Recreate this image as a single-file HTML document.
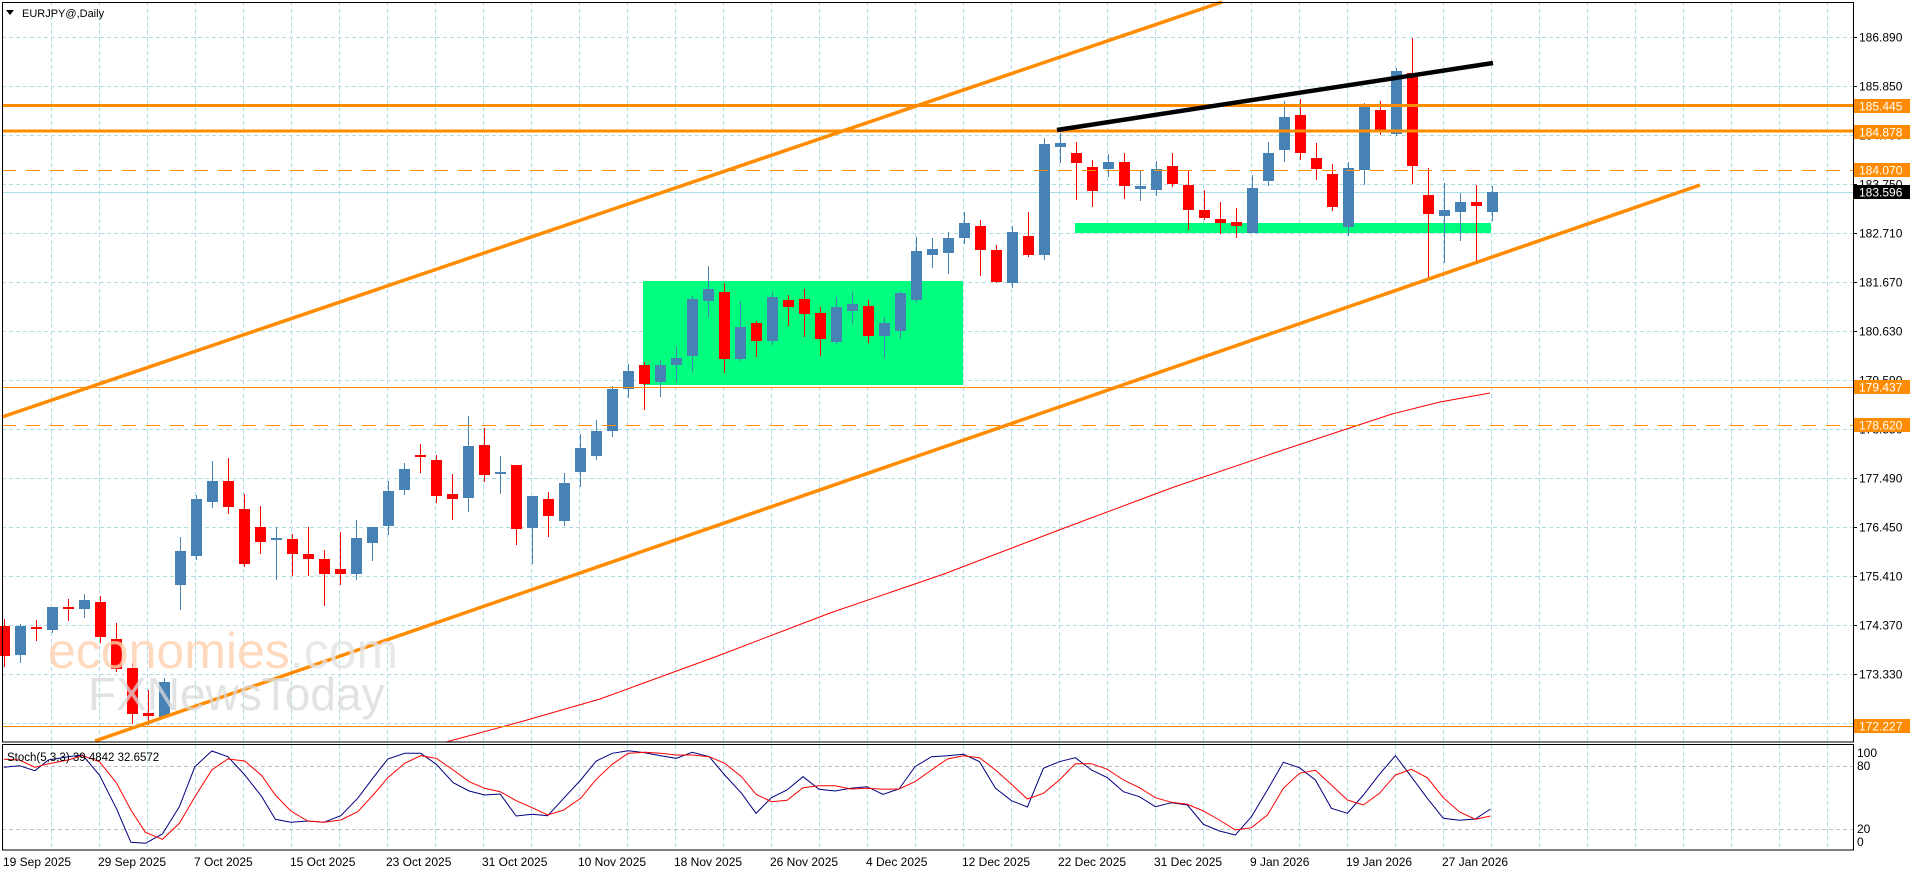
<!DOCTYPE html>
<html><head><meta charset="utf-8"><style>
html,body{margin:0;padding:0;background:#fff;}
svg{display:block;}
text{font-family:"Liberation Sans",Arial,sans-serif;}
</style></head><body>
<svg width="1916" height="874" viewBox="0 0 1916 874" xmlns="http://www.w3.org/2000/svg">
<rect x="0" y="0" width="1916" height="874" fill="#fff"/>
<!-- grid -->
<g stroke="#b0dde4" stroke-width="1" stroke-dasharray="4,3" fill="none">
<path d="M2,37.5H1853M2,86.5H1853M2,135.5H1853M2,184.5H1853M2,233.5H1853M2,282.5H1853M2,331.5H1853M2,380.5H1853M2,429.5H1853M2,478.5H1853M2,527.5H1853M2,576.5H1853M2,625.5H1853M2,674.5H1853M2,723.5H1853"/>
<path d="M51.5,2V742M99.5,2V742M147.5,2V742M195.5,2V742M243.5,2V742M291.5,2V742M339.5,2V742M387.5,2V742M435.5,2V742M483.5,2V742M531.5,2V742M579.5,2V742M627.5,2V742M675.5,2V742M723.5,2V742M771.5,2V742M819.5,2V742M867.5,2V742M915.5,2V742M963.5,2V742M1011.5,2V742M1059.5,2V742M1107.5,2V742M1155.5,2V742M1203.5,2V742M1251.5,2V742M1299.5,2V742M1347.5,2V742M1395.5,2V742M1443.5,2V742M1491.5,2V742M1539.5,2V742M1587.5,2V742M1635.5,2V742M1683.5,2V742M1731.5,2V742M1779.5,2V742M1827.5,2V742"/>
<path d="M51.5,745V850M99.5,745V850M147.5,745V850M195.5,745V850M243.5,745V850M291.5,745V850M339.5,745V850M387.5,745V850M435.5,745V850M483.5,745V850M531.5,745V850M579.5,745V850M627.5,745V850M675.5,745V850M723.5,745V850M771.5,745V850M819.5,745V850M867.5,745V850M915.5,745V850M963.5,745V850M1011.5,745V850M1059.5,745V850M1107.5,745V850M1155.5,745V850M1203.5,745V850M1251.5,745V850M1299.5,745V850M1347.5,745V850M1395.5,745V850M1443.5,745V850M1491.5,745V850M1539.5,745V850M1587.5,745V850M1635.5,745V850M1683.5,745V850M1731.5,745V850M1779.5,745V850M1827.5,745V850"/>
</g>
<path d="M2,766.5H1853M2,829.5H1853" stroke="#c0c0c0" stroke-dasharray="4,3"/>
<!-- green rects -->
<rect x="643" y="281" width="320" height="104" fill="#00ff7f"/>
<rect x="1075" y="223" width="416" height="10" fill="#00ff7f"/>
<!-- bid line -->
<path d="M2,192.5H1853" stroke="#a8dde4" stroke-width="1"/>
<!-- blue candles -->
<g fill="#4682b4" stroke="none">
<rect x="15" y="626" width="11" height="29"/><rect x="20" y="624" width="1" height="39"/>
<rect x="47" y="607" width="11" height="23"/><rect x="52" y="607" width="1" height="26"/>
<rect x="79" y="600" width="11" height="9"/><rect x="84" y="594" width="1" height="24"/>
<rect x="159" y="682" width="11" height="35"/><rect x="164" y="678" width="1" height="40"/>
<rect x="175" y="551" width="11" height="34"/><rect x="180" y="537" width="1" height="73"/>
<rect x="191" y="499" width="11" height="57"/><rect x="196" y="495" width="1" height="65"/>
<rect x="207" y="481" width="11" height="21"/><rect x="212" y="461" width="1" height="47"/>
<rect x="271" y="538" width="11" height="2"/><rect x="276" y="527" width="1" height="53"/>
<rect x="351" y="538" width="11" height="36"/><rect x="356" y="520" width="1" height="60"/>
<rect x="367" y="527" width="11" height="16"/><rect x="372" y="527" width="1" height="34"/>
<rect x="383" y="491" width="11" height="35"/><rect x="388" y="481" width="1" height="54"/>
<rect x="399" y="469" width="11" height="21"/><rect x="404" y="463" width="1" height="32"/>
<rect x="463" y="446" width="11" height="52"/><rect x="468" y="416" width="1" height="96"/>
<rect x="495" y="472" width="11" height="2"/><rect x="500" y="456" width="1" height="38"/>
<rect x="527" y="496" width="11" height="32"/><rect x="532" y="496" width="1" height="68"/>
<rect x="559" y="483" width="11" height="38"/><rect x="564" y="473" width="1" height="53"/>
<rect x="575" y="448" width="11" height="24"/><rect x="580" y="434" width="1" height="53"/>
<rect x="591" y="431" width="11" height="25"/><rect x="596" y="420" width="1" height="40"/>
<rect x="607" y="389" width="11" height="42"/><rect x="612" y="386" width="1" height="51"/>
<rect x="623" y="371" width="11" height="18"/><rect x="628" y="364" width="1" height="34"/>
<rect x="655" y="365" width="11" height="17"/><rect x="660" y="360" width="1" height="37"/>
<rect x="671" y="358" width="11" height="7"/><rect x="676" y="347" width="1" height="35"/>
<rect x="687" y="299" width="11" height="57"/><rect x="692" y="296" width="1" height="76"/>
<rect x="703" y="289" width="11" height="12"/><rect x="708" y="266" width="1" height="51"/>
<rect x="735" y="327" width="11" height="32"/><rect x="740" y="301" width="1" height="60"/>
<rect x="767" y="297" width="11" height="44"/><rect x="772" y="292" width="1" height="53"/>
<rect x="831" y="307" width="11" height="35"/><rect x="836" y="297" width="1" height="47"/>
<rect x="847" y="304" width="11" height="7"/><rect x="852" y="292" width="1" height="32"/>
<rect x="879" y="323" width="11" height="13"/><rect x="884" y="317" width="1" height="41"/>
<rect x="895" y="293" width="11" height="38"/><rect x="900" y="291" width="1" height="48"/>
<rect x="911" y="251" width="11" height="49"/><rect x="916" y="237" width="1" height="66"/>
<rect x="927" y="249" width="11" height="6"/><rect x="932" y="238" width="1" height="30"/>
<rect x="943" y="238" width="11" height="15"/><rect x="948" y="232" width="1" height="42"/>
<rect x="959" y="223" width="11" height="15"/><rect x="964" y="212" width="1" height="32"/>
<rect x="1007" y="232" width="11" height="51"/><rect x="1012" y="226" width="1" height="62"/>
<rect x="1039" y="144" width="11" height="111"/><rect x="1044" y="138" width="1" height="122"/>
<rect x="1055" y="143" width="11" height="4"/><rect x="1060" y="133" width="1" height="30"/>
<rect x="1103" y="162" width="11" height="7"/><rect x="1108" y="154" width="1" height="23"/>
<rect x="1135" y="186" width="11" height="3"/><rect x="1140" y="170" width="1" height="31"/>
<rect x="1151" y="169" width="11" height="21"/><rect x="1156" y="161" width="1" height="35"/>
<rect x="1247" y="188" width="11" height="45"/><rect x="1252" y="175" width="1" height="58"/>
<rect x="1263" y="153" width="11" height="28"/><rect x="1268" y="142" width="1" height="44"/>
<rect x="1279" y="117" width="11" height="33"/><rect x="1284" y="101" width="1" height="61"/>
<rect x="1343" y="168" width="11" height="59"/><rect x="1348" y="162" width="1" height="74"/>
<rect x="1359" y="106" width="11" height="64"/><rect x="1364" y="103" width="1" height="82"/>
<rect x="1391" y="71" width="11" height="63"/><rect x="1396" y="68" width="1" height="68"/>
<rect x="1439" y="210" width="11" height="6"/><rect x="1444" y="183" width="1" height="80"/>
<rect x="1455" y="202" width="11" height="10"/><rect x="1460" y="193" width="1" height="48"/>
<rect x="1487" y="192" width="11" height="20"/><rect x="1492" y="186" width="1" height="35"/>
</g>
<!-- red candles -->
<g fill="#ff0000" stroke="none">
<rect x="-1" y="626" width="11" height="30"/><rect x="4" y="619" width="1" height="48"/>
<rect x="31" y="627" width="11" height="2"/><rect x="36" y="620" width="1" height="21"/>
<rect x="63" y="607" width="11" height="2"/><rect x="68" y="599" width="1" height="22"/>
<rect x="95" y="602" width="11" height="35"/><rect x="100" y="596" width="1" height="47"/>
<rect x="111" y="639" width="11" height="30"/><rect x="116" y="623" width="1" height="49"/>
<rect x="127" y="668" width="11" height="46"/><rect x="132" y="663" width="1" height="61"/>
<rect x="143" y="713" width="11" height="3"/><rect x="148" y="690" width="1" height="35"/>
<rect x="223" y="481" width="11" height="26"/><rect x="228" y="458" width="1" height="56"/>
<rect x="239" y="509" width="11" height="55"/><rect x="244" y="494" width="1" height="73"/>
<rect x="255" y="527" width="11" height="15"/><rect x="260" y="506" width="1" height="48"/>
<rect x="287" y="539" width="11" height="15"/><rect x="292" y="534" width="1" height="42"/>
<rect x="303" y="554" width="11" height="5"/><rect x="308" y="527" width="1" height="49"/>
<rect x="319" y="559" width="11" height="15"/><rect x="324" y="550" width="1" height="56"/>
<rect x="335" y="569" width="11" height="5"/><rect x="340" y="532" width="1" height="53"/>
<rect x="415" y="455" width="11" height="2"/><rect x="420" y="444" width="1" height="29"/>
<rect x="431" y="460" width="11" height="36"/><rect x="436" y="455" width="1" height="48"/>
<rect x="447" y="494" width="11" height="5"/><rect x="452" y="474" width="1" height="46"/>
<rect x="479" y="445" width="11" height="30"/><rect x="484" y="428" width="1" height="54"/>
<rect x="511" y="465" width="11" height="64"/><rect x="516" y="465" width="1" height="80"/>
<rect x="543" y="499" width="11" height="17"/><rect x="548" y="492" width="1" height="45"/>
<rect x="639" y="365" width="11" height="19"/><rect x="644" y="362" width="1" height="48"/>
<rect x="719" y="292" width="11" height="67"/><rect x="724" y="283" width="1" height="90"/>
<rect x="751" y="323" width="11" height="18"/><rect x="756" y="321" width="1" height="36"/>
<rect x="783" y="300" width="11" height="7"/><rect x="788" y="295" width="1" height="31"/>
<rect x="799" y="299" width="11" height="15"/><rect x="804" y="289" width="1" height="48"/>
<rect x="815" y="313" width="11" height="26"/><rect x="820" y="307" width="1" height="49"/>
<rect x="863" y="306" width="11" height="30"/><rect x="868" y="300" width="1" height="43"/>
<rect x="975" y="226" width="11" height="24"/><rect x="980" y="220" width="1" height="56"/>
<rect x="991" y="250" width="11" height="32"/><rect x="996" y="245" width="1" height="38"/>
<rect x="1023" y="236" width="11" height="19"/><rect x="1028" y="212" width="1" height="45"/>
<rect x="1071" y="153" width="11" height="10"/><rect x="1076" y="142" width="1" height="58"/>
<rect x="1087" y="167" width="11" height="24"/><rect x="1092" y="160" width="1" height="47"/>
<rect x="1119" y="162" width="11" height="24"/><rect x="1124" y="153" width="1" height="46"/>
<rect x="1167" y="166" width="11" height="18"/><rect x="1172" y="153" width="1" height="34"/>
<rect x="1183" y="185" width="11" height="25"/><rect x="1188" y="170" width="1" height="60"/>
<rect x="1199" y="210" width="11" height="8"/><rect x="1204" y="190" width="1" height="30"/>
<rect x="1215" y="219" width="11" height="4"/><rect x="1220" y="202" width="1" height="32"/>
<rect x="1231" y="222" width="11" height="4"/><rect x="1236" y="208" width="1" height="30"/>
<rect x="1295" y="115" width="11" height="38"/><rect x="1300" y="99" width="1" height="61"/>
<rect x="1311" y="158" width="11" height="11"/><rect x="1316" y="143" width="1" height="37"/>
<rect x="1327" y="174" width="11" height="33"/><rect x="1332" y="164" width="1" height="47"/>
<rect x="1375" y="110" width="11" height="20"/><rect x="1380" y="101" width="1" height="34"/>
<rect x="1407" y="73" width="11" height="93"/><rect x="1412" y="38" width="1" height="146"/>
<rect x="1423" y="195" width="11" height="19"/><rect x="1428" y="168" width="1" height="110"/>
<rect x="1471" y="202" width="11" height="4"/><rect x="1476" y="185" width="1" height="77"/>
</g>
<!-- MA -->
<polyline fill="none" stroke="#ff0000" stroke-width="1" points="446,742 520,722 600,699 715,657 830,613 944,574 1059,530 1174,487 1289,448 1392,414 1440,402 1490,393"/>
<!-- horizontal levels -->
<path d="M2,105.5H1853M2,131H1853" stroke="#ff8c00" stroke-width="3"/>
<path d="M2,170.5H1853M2,425.5H1853" stroke="#ff8c00" stroke-width="1" stroke-dasharray="14,10"/>
<path d="M2,387.5H1853M2,726.5H1853" stroke="#ff8c00" stroke-width="1"/>
<!-- channel -->
<line x1="2" y1="417" x2="1222" y2="2" stroke="#ff8c00" stroke-width="3.5"/>
<line x1="95" y1="741" x2="1700" y2="185" stroke="#ff8c00" stroke-width="3.5"/>
<line x1="1057" y1="130" x2="1493" y2="63" stroke="#000" stroke-width="4.5"/>
<!-- watermark -->
<text x="48" y="668" font-size="50" fill="#ffcfae" fill-opacity="0.8">economies<tspan fill="#e2e2e2">.com</tspan></text>
<text x="88" y="710" font-size="46" fill="#d8d8d8" fill-opacity="0.75">FXNewsToday</text>
<!-- stoch -->
<polyline fill="none" stroke="#000080" stroke-width="1" points="3.9,767.3 19.4,765.7 34.9,770.7 48.5,760 67.9,756.7 82.4,755 99.4,775 116.3,808.3 130.9,842.3 145.4,843.3 162.4,834 179.4,806.7 194.9,766.7 211.8,751 227.8,756.7 244.8,775 261.8,796.7 275.3,819.3 290.8,822.3 307.8,821 323.8,822.3 340.8,815.7 357.7,798.3 373.2,777.7 387.8,759 404.7,753.3 420.7,753.3 436.3,764.3 453.2,782.7 469.2,791 484.7,795 500.2,794 516.2,816 532.2,814.3 547.7,815.7 563.7,798.3 580.7,780 596.2,761 612.2,753.3 628.2,750.7 644.7,752.7 660.7,755.7 676.2,758.3 692.2,752.3 709.2,756.7 724.7,775 741.6,793.3 756,813.3 771.5,797.7 787,790 803,776.7 819,789.3 835,791 851,788.3 867,786.7 883,794.3 899,789 915,766.7 931.5,756.7 947.5,755.7 963.5,754.3 979.5,761.7 995.5,788.3 1011.5,800.7 1027.4,807 1043.4,768.3 1059.4,761.7 1075.4,757.7 1091.4,770 1107.4,777.7 1123.4,791.7 1139.4,796.7 1155.4,806.7 1171.4,802.7 1187.4,805 1203.4,824.3 1219.4,831 1235.4,835 1251.4,816.7 1267.4,790 1283.4,762.3 1299.4,767.7 1315.4,780 1331.4,808.3 1347.4,813.3 1363.4,795 1379.4,774.3 1395.4,755.7 1411.3,776.7 1427.3,798.3 1443.3,818.3 1459.3,820.3 1475.3,819 1490.4,809"/>
<polyline fill="none" stroke="#ff0000" stroke-width="1" points="3.9,759.3 19.4,760 34.9,767.3 46,764.3 67.9,760 82.4,755.7 99.4,761.7 116.3,782.7 130.9,810 145.4,832.3 162.4,839.3 179.4,823.3 194.9,796.7 211.8,770 227.8,759 244.8,761 261.8,775.7 275.3,795 290.8,811 307.8,821 323.8,822.3 340.8,820 357.7,811.7 373.2,795 387.8,777.7 404.7,763.3 420.7,755.7 436.3,758.3 453.2,770 469.2,781.7 484.7,788.3 500.2,791.7 516.2,800.7 532.2,807.7 547.7,815 563.7,810 580.7,798.3 596.2,779.3 612.2,764.3 628.2,753.3 644.7,752.3 660.7,753.3 676.2,755 692.2,755 709.2,756.7 724.7,763.3 741.6,776.7 756,794.3 771.5,801.7 787,800.3 803,787.7 819,785.7 835,785.7 851,789 867,788.3 883,789.3 899,789 915,781.7 931.5,770 947.5,759 963.5,755.7 979.5,757.7 995.5,770 1011.5,784.3 1027.4,799 1043.4,793.3 1059.4,780 1075.4,763.7 1091.4,763.7 1107.4,769.3 1123.4,780 1139.4,787.7 1155.4,797.7 1171.4,802.3 1187.4,804.3 1203.4,811 1219.4,820 1235.4,830 1251.4,827.7 1267.4,815 1283.4,788.3 1299.4,773.3 1315.4,770.3 1331.4,785 1347.4,800 1363.4,805 1379.4,793.3 1395.4,775 1411.3,769.3 1427.3,777.7 1443.3,797.7 1459.3,811.7 1475.3,819.3 1490.4,816"/>
<!-- borders -->
<rect x="2.5" y="2.5" width="1851" height="739.5" fill="none" stroke="#000" stroke-width="1"/>
<rect x="2.5" y="744.5" width="1851" height="105.5" fill="none" stroke="#000" stroke-width="1"/>
<!-- title -->
<path d="M6,10h8l-4,5z" fill="#000"/>
<text x="22" y="17" font-size="11" fill="#000">EURJPY@,Daily</text>
<text x="7" y="761" font-size="11.5" fill="#000">Stoch(5,3,3) 39.4842 32.6572</text>
<!-- price axis -->
<g font-size="12" fill="#000">
<text x="1859" y="41.5">186.890</text>
<text x="1859" y="90.5">185.850</text>
<text x="1859" y="139.5">184.790</text>
<text x="1859" y="188.5">183.750</text>
<text x="1859" y="237.5">182.710</text>
<text x="1859" y="286.5">181.670</text>
<text x="1859" y="335.5">180.630</text>
<text x="1859" y="384.5">179.590</text>
<text x="1859" y="433.5">178.550</text>
<text x="1859" y="482.5">177.490</text>
<text x="1859" y="531.5">176.450</text>
<text x="1859" y="580.5">175.410</text>
<text x="1859" y="629.5">174.370</text>
<text x="1859" y="678.5">173.330</text>
<text x="1859" y="727.5">172.290</text>
</g>
<path d="M1853,37.5h4M1853,86.5h4M1853,135.5h4M1853,184.5h4M1853,233.5h4M1853,282.5h4M1853,331.5h4M1853,380.5h4M1853,429.5h4M1853,478.5h4M1853,527.5h4M1853,576.5h4M1853,625.5h4M1853,674.5h4M1853,723.5h4" stroke="#000"/>
<g font-size="12" fill="#fff">
<rect x="1854" y="99" width="56" height="14" fill="#ff8c00"/><text x="1859" y="110.5">185.445</text>
<rect x="1854" y="125" width="56" height="14" fill="#ff8c00"/><text x="1859" y="136.5">184.878</text>
<rect x="1854" y="163" width="56" height="14" fill="#ff8c00"/><text x="1859" y="174.5">184.070</text>
<rect x="1854" y="185" width="56" height="14" fill="#000"/><text x="1859" y="196.5">183.596</text>
<rect x="1854" y="380" width="56" height="14" fill="#ff8c00"/><text x="1859" y="391.5">179.437</text>
<rect x="1854" y="418" width="56" height="14" fill="#ff8c00"/><text x="1859" y="429.5">178.620</text>
<rect x="1854" y="719" width="56" height="14" fill="#ff8c00"/><text x="1859" y="730.5">172.227</text>
</g>
<g font-size="12" fill="#000">
<text x="1857" y="757">100</text>
<text x="1857" y="770">80</text>
<text x="1857" y="833">20</text>
<text x="1857" y="846">0</text>
</g>
<!-- dates -->
<g font-size="12" fill="#000">
<text x="3" y="866">19 Sep 2025</text>
<text x="98" y="866">29 Sep 2025</text>
<text x="194" y="866">7 Oct 2025</text>
<text x="290" y="866">15 Oct 2025</text>
<text x="386" y="866">23 Oct 2025</text>
<text x="482" y="866">31 Oct 2025</text>
<text x="578" y="866">10 Nov 2025</text>
<text x="674" y="866">18 Nov 2025</text>
<text x="770" y="866">26 Nov 2025</text>
<text x="866" y="866">4 Dec 2025</text>
<text x="962" y="866">12 Dec 2025</text>
<text x="1058" y="866">22 Dec 2025</text>
<text x="1154" y="866">31 Dec 2025</text>
<text x="1250" y="866">9 Jan 2026</text>
<text x="1346" y="866">19 Jan 2026</text>
<text x="1442" y="866">27 Jan 2026</text>
</g>
</svg>
</body></html>
